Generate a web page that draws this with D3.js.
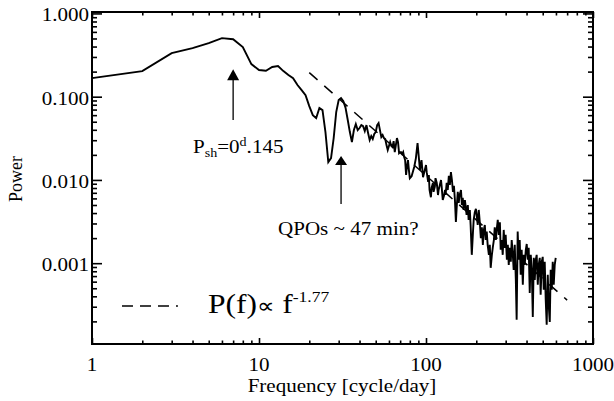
<!DOCTYPE html>
<html>
<head>
<meta charset="utf-8">
<script src="https://cdn.jsdelivr.net/npm/d3@7/dist/d3.min.js"></script>
<style>
  body { margin: 0; background: #fff; }
  text { font-family: "Liberation Serif", "Times New Roman", serif; fill: #000; }
</style>
</head>
<body>
<svg id="chart" width="614" height="401"></svg>
<script>
// periodogram values (frequency in cycle/day)
const freq = [1,2,3,4,5,6,7,8,9,10,11,12,13,14,15,16,17,18,19,20,
  21,22,23,24,25,26,27,28,29,30,31,32,33,34,35,36,37,38,39,40,
  41,42,43,44,45,46,47,48,49,50,51,52,53,54,55,56,57,58,59,60,
  61,62,63,64,65,66,67,68,69,70,71,72,73,74,75,76,77,78,79,80,
  82,85,87,89,92,94,96,
  100,101,103,104,105,107,108,110,111,113,114,116,118,119,121,123,124,126,128,130,
  131,133,135,137,139,141,143,145,147,149,151,153,155,157,159,162,164,166,168,171,
  173,175,178,180,183,185,188,191,193,196,199,201,204,207,210,213,216,219,222,225,
  228,231,234,238,241,244,248,251,255,258,262,265,269,273,277,280,284,288,292,296,
  300,305,309,313,317,322,326,331,335,340,345,349,354,359,364,369,374,380,385,390,
  396,401,407,412,418,424,430,436,442,448,454,460,467,473,480,486,493,500,507,514,
  521,528,536,543,551,558,566,574,582,590,598];
const power = [0.167,0.203,0.334,0.383,0.44,0.505,0.49,0.394,0.246,0.209,
  0.205,0.227,0.233,0.203,0.182,0.167,0.138,0.120,0.1045,0.0771,
  0.0601,0.0553,0.0730,0.0690,0.0376,0.0164,0.0183,0.0318,0.0653,0.091,
  0.0962,0.0885,0.073,0.0524,0.0376,0.0285,0.0397,0.0469,0.0397,0.042,
  0.0456,0.0443,0.0386,0.0456,0.0366,0.0301,0.0337,0.031,0.0356,0.0376,
  0.0456,0.0482,0.0397,0.0327,0.0346,0.0318,0.031,0.0262,0.0229,0.0255,
  0.0285,0.0255,0.0248,0.0293,0.0216,0.0262,0.0318,0.0285,0.021,0.0216,
  0.0216,0.0205,0.0216,0.0188,0.0173,0.0115,0.0147,0.0173,0.0131,0.0105,
  0.0111,0.0143,0.0183,0.0277,0.0132,0.0173,0.0108,
  0.0151,0.0124,0.0095,0.01145,0.00757,0.0062,0.0080,0.0092,0.0072,0.0083,
  0.0105,0.0092,0.00659,0.00757,0.00869,0.00997,0.0085,0.00574,0.0064,0.00757,
  0.00659,0.0092,0.00757,0.0112,0.00869,0.0124,0.00997,0.0072,0.0085,0.00574,
  0.00312,0.005,0.0072,0.0053,0.00659,0.00757,0.005,0.0061,0.00436,0.00574,
  0.0047,0.0038,0.005,0.00331,0.00436,0.00288,0.00126,0.0023,0.00331,0.0041,
  0.0045,0.0038,0.00288,0.00436,0.0031,0.002,0.0027,0.00166,0.00251,0.00288,
  0.0019,0.0024,0.00166,0.00126,0.00166,0.00088,0.00126,0.00153,0.0019,0.0027,
  0.0019,0.00251,0.00331,0.00219,0.0031,0.00145,0.0019,0.00126,0.00251,0.00153,
  0.00219,0.0011,0.00166,0.000955,0.00153,0.00104,0.0019,0.00126,0.000832,0.00166,
  0.000631,0.000209,0.0024,0.0011,0.0019,0.000725,0.00145,0.00055,0.00126,0.000955,
  0.00145,0.0017,0.0011,0.00153,0.00044,0.00126,0.000832,0.000226,0.00116,0.000631,
  0.0011,0.00126,0.00055,0.000955,0.00116,0.000417,0.00104,0.00119,0.000479,0.00104,
  0.000363,0.000182,0.000725,0.000316,0.000197,0.000832,0.000479,0.00104,0.00055,0.000955,
  0.00116];

// power-law fit P(f) = A f^-1.77
const fitIndex = -1.77;
const fitNorm = 39.1;
const fitFreq = [20, 700];

const xTicks = [1, 10, 100, 1000];
const yTicks = [0.001, 0.01, 0.1, 1];

const svg = d3.select("#chart");
const mLeft = 92, mRight = 593, mTop = 12, mBottom = 344;
const sx = 1.17; // glyphs in the figure are a bit wide

const x = d3.scaleLog().domain([1, 1000]).range([mLeft, mRight]);
const y = d3.scaleLog().domain([1.07e-4, 1.04]).range([mBottom, mTop]);

// minor ticks 2..9 in each decade
const xMinor = [], yMinor = [];
[1, 10, 100].forEach(d => { for (let k = 2; k <= 9; k++) xMinor.push(d * k); });
[1e-4, 1e-3, 1e-2, 1e-1].forEach(d => { for (let k = 2; k <= 9; k++) if (d * k > 1.07e-4) yMinor.push(d * k); });

function ticks(axis, vals, len, tr) {
  svg.append("g")
    .attr("transform", tr)
    .call(axis.tickValues(vals).tickSizeInner(-len).tickSizeOuter(0).tickFormat(""))
    .call(g => g.select(".domain").remove())
    .call(g => g.selectAll("line").attr("stroke", "#000").attr("stroke-width", 1.6));
}
ticks(d3.axisBottom(x), xTicks, 6, `translate(0,${mBottom})`);
ticks(d3.axisBottom(x), xMinor, 3.5, `translate(0,${mBottom})`);
ticks(d3.axisTop(x), xTicks, 6, `translate(0,${mTop})`);
ticks(d3.axisTop(x), xMinor, 3.5, `translate(0,${mTop})`);
ticks(d3.axisLeft(y), yTicks, 10, `translate(${mLeft},0)`);
ticks(d3.axisLeft(y), yMinor, 5, `translate(${mLeft},0)`);
ticks(d3.axisRight(y), yTicks, 10, `translate(${mRight},0)`);
ticks(d3.axisRight(y), yMinor, 5, `translate(${mRight},0)`);

svg.append("rect")
  .attr("x", mLeft).attr("y", mTop)
  .attr("width", mRight - mLeft).attr("height", mBottom - mTop)
  .attr("fill", "none").attr("stroke", "#000").attr("stroke-width", 2);

// text helper, stretched horizontally like the original
function txt(px, py, size, anchor) {
  return svg.append("text")
    .attr("transform", `translate(${px},${py}) scale(${sx},1)`)
    .attr("text-anchor", anchor || "start")
    .style("font-size", size + "px");
}

xTicks.forEach(v => txt(x(v), 370.5, 18, "middle").text(v));
yTicks.forEach(v => txt(89, y(v) + 8, 18, "end").text(d3.format(".3f")(v)));

txt(342, 392, 18, "middle").text("Frequency [cycle/day]");
svg.append("text")
  .attr("transform", "translate(22,179) rotate(-90)")
  .attr("text-anchor", "middle")
  .style("font-size", "18px")
  .text("Power");

// data curve
const pts = freq.map((f, i) => [f, power[i]]);
svg.append("path")
  .datum(pts)
  .attr("fill", "none")
  .attr("stroke", "#000")
  .attr("stroke-width", 1.9)
  .attr("d", d3.line().x(d => x(d[0])).y(d => y(d[1])));

// dashed fit
svg.append("path")
  .datum(fitFreq.map(f => [f, fitNorm * Math.pow(f, fitIndex)]))
  .attr("fill", "none")
  .attr("stroke", "#000")
  .attr("stroke-width", 1.5)
  .attr("stroke-dasharray", "11,9")
  .attr("d", d3.line().x(d => x(d[0])).y(d => y(d[1])));

// arrows
function arrow(f, pTip, pEnd, head) {
  const ax = x(f), y0 = y(pTip), y1 = y(pEnd);
  svg.append("line").attr("x1", ax).attr("x2", ax)
    .attr("y1", y0 + head - 1).attr("y2", y1)
    .attr("stroke", "#000").attr("stroke-width", 1.3);
  svg.append("path")
    .attr("d", `M${ax},${y0} L${ax - 6},${y0 + head} L${ax + 6},${y0 + head} Z`)
    .attr("fill", "#000");
}
arrow(7, 0.214, 0.0524, 11);
arrow(31, 0.0194, 0.00514, 9);

// annotations
const a1 = txt(193, 153, 18);
a1.append("tspan").text("P");
a1.append("tspan").attr("dy", 4).style("font-size", "12px").text("sh");
a1.append("tspan").attr("dy", -4).text("=0");
a1.append("tspan").attr("dy", -7).style("font-size", "12px").text("d");
a1.append("tspan").attr("dy", 7).text(".145");

txt(278, 235, 18).text("QPOs ~ 47 min?");

// legend
svg.append("line")
  .attr("x1", x(1.512)).attr("x2", x(3.27))
  .attr("y1", 306).attr("y2", 306)
  .attr("stroke", "#000").attr("stroke-width", 1.5)
  .attr("stroke-dasharray", "11,7");
const lg = txt(208, 313, 27);
lg.append("tspan").text("P(f)");
lg.append("tspan").style("font-size", "21px").text("\u221D");
lg.append("tspan").text(" f");
lg.append("tspan").attr("dy", -11).style("font-size", "15px").text("-1.77");
</script>
</body>
</html>
